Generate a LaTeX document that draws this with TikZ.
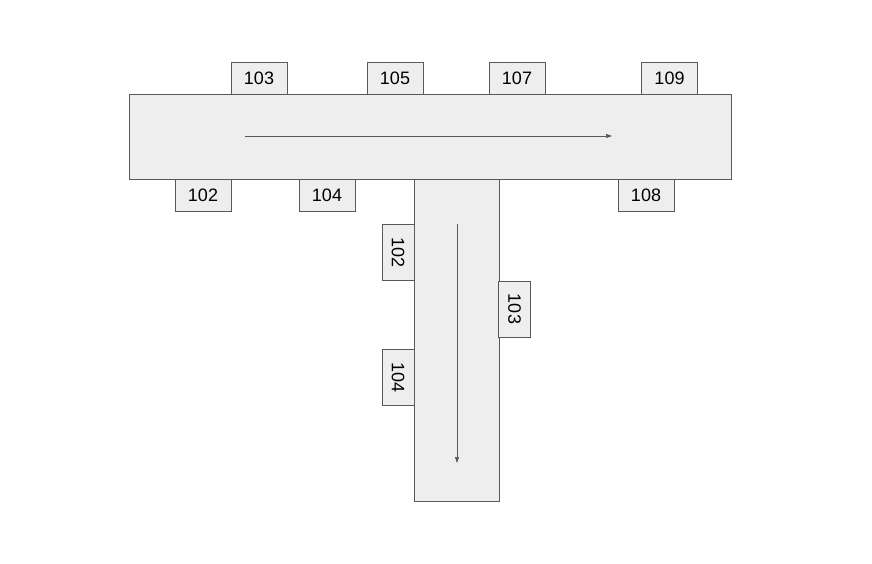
\documentclass[tikz,border=0pt]{standalone}
\usepackage{fontspec}
\setmainfont{Liberation Sans}
\usetikzlibrary{arrows.meta}
\definecolor{boxfill}{HTML}{EEEEEE}
\definecolor{boxline}{HTML}{595959}
\tikzset{lane/.style = {draw=boxline, fill=boxfill, line width=0.8pt, inner sep=0}}
\tikzset{tag/.style = {draw=boxline, fill=boxfill, line width=0.8pt, inner sep=0, minimum width=56, minimum height=32, font=\fontsize{18}{18}\selectfont}}
\tikzset{flow/.style = {draw=boxline, line width=0.7pt, -{Triangle[length=6pt, width=4pt]}}}

\begin{document}
\begin{tikzpicture}[x=1pt, y=-1pt]
    \useasboundingbox (0, 0) rectangle (872, 564);

    % the two lanes
    \node [lane, minimum width=85, minimum height=322] (branch) at (456.5, 340) {};
    \node [lane, minimum width=602, minimum height=85] (road) at (430, 136.5) {};

    % tags above and below the wide lane
    \node [tag] (t103) at (259, 78) {103};
    \node [tag] (t105) at (395, 78) {105};
    \node [tag] (t107) at (517, 78) {107};
    \node [tag] (t109) at (669.5, 78) {109};
    \node [tag] (b102) at (203, 195) {102};
    \node [tag] (b104) at (327, 195) {104};
    \node [tag] (b108) at (646, 195) {108};

    % tags beside the narrow lane
    \node [tag, rotate=-90] (l102) at (398, 252.5) {102};
    \node [tag, rotate=-90] (l104) at (398, 377.5) {104};
    \node [tag, rotate=-90] (r103) at (514.5, 309) {103};

    % direction of travel
    \coordinate (hstart) at (245, 136);
    \coordinate (hend) at (612, 136);
    \coordinate (vstart) at (457, 224);
    \coordinate (vend) at (457, 463);
    \draw [flow] (hstart) -- (hend);
    \draw [flow] (vstart) -- (vend);
\end{tikzpicture}
\end{document}
